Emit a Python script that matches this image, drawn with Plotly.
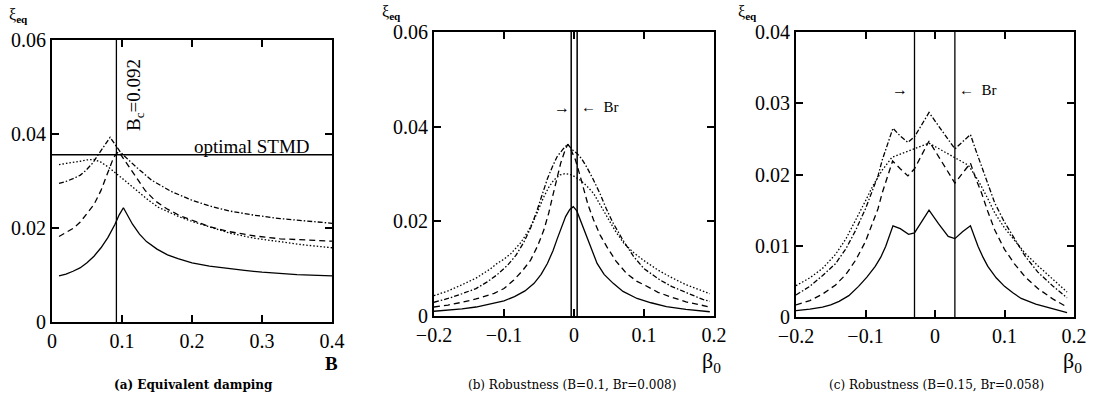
import plotly.graph_objects as go

W, H = 1095, 404

# ---------------- Panel (a): equivalent damping vs B ----------------
a_solid_B = [0.01, 0.02, 0.03, 0.04, 0.05, 0.06, 0.07, 0.08, 0.09, 0.096, 0.102, 0.108, 0.115, 0.125, 0.135, 0.15, 0.165, 0.18, 0.2, 0.225, 0.25, 0.275, 0.3, 0.35, 0.4]
a_solid_y = [0.0098, 0.0102, 0.0108, 0.0115, 0.0126, 0.0140, 0.0158, 0.0180, 0.0208, 0.0228, 0.0243, 0.0228, 0.0208, 0.0187, 0.0171, 0.0155, 0.0143, 0.0135, 0.0126, 0.0119, 0.0114, 0.0110, 0.0106, 0.0101, 0.0098]
a_dash_B = [0.01, 0.02, 0.03, 0.04, 0.05, 0.06, 0.07, 0.08, 0.088, 0.095, 0.1, 0.106, 0.114, 0.124, 0.133, 0.148, 0.165, 0.183, 0.2, 0.225, 0.254, 0.29, 0.326, 0.36, 0.4]
a_dash_y = [0.0182, 0.0190, 0.0199, 0.0212, 0.0230, 0.0250, 0.0280, 0.0320, 0.0350, 0.0363, 0.0352, 0.0338, 0.0320, 0.0298, 0.0280, 0.0257, 0.0240, 0.0226, 0.0216, 0.0203, 0.0192, 0.0183, 0.0177, 0.0174, 0.0172]
a_dot_B = [0.01, 0.025, 0.04, 0.05, 0.06, 0.07, 0.081, 0.095, 0.11, 0.124, 0.138, 0.152, 0.167, 0.183, 0.2, 0.225, 0.254, 0.29, 0.326, 0.36, 0.4]
a_dot_y = [0.0335, 0.0338, 0.0342, 0.0345, 0.0346, 0.0340, 0.0329, 0.0312, 0.0293, 0.0276, 0.0259, 0.0244, 0.0233, 0.0223, 0.0214, 0.0202, 0.0189, 0.0178, 0.0170, 0.0164, 0.0158]
a_dd_B = [0.01, 0.02, 0.03, 0.04, 0.048, 0.058, 0.067, 0.075, 0.083, 0.09, 0.098, 0.11, 0.12, 0.143, 0.17, 0.2, 0.225, 0.254, 0.29, 0.326, 0.36, 0.4]
a_dd_y = [0.0295, 0.0299, 0.0305, 0.0312, 0.0322, 0.0338, 0.0358, 0.0376, 0.0393, 0.0378, 0.0361, 0.0344, 0.0330, 0.0301, 0.0278, 0.0259, 0.0247, 0.0236, 0.0227, 0.0220, 0.0215, 0.0210]
a_Bc = 0.092
a_opt_stmd = 0.0356

# ---------------- Panel (b): robustness B=0.1, Br=0.008 ----------------
b_solid_x = [-0.2, -0.18, -0.16, -0.14, -0.12, -0.1, -0.085, -0.07, -0.057, -0.047, -0.038, -0.03, -0.024, -0.018, -0.012, -0.006, -0.001, 0.004, 0.009, 0.014, 0.018, 0.025, 0.033, 0.043, 0.056, 0.07, 0.09, 0.11, 0.132, 0.16, 0.194]
b_solid_y = [0.0010, 0.0012, 0.0015, 0.0019, 0.0025, 0.0032, 0.0041, 0.0053, 0.0069, 0.0088, 0.0111, 0.0138, 0.0163, 0.0188, 0.0210, 0.0225, 0.0231, 0.0222, 0.0203, 0.0183, 0.0168, 0.0140, 0.0111, 0.0088, 0.0069, 0.0052, 0.0037, 0.0028, 0.0020, 0.0014, 0.0009]
b_dash_x = [-0.2, -0.18, -0.16, -0.14, -0.114, -0.1, -0.086, -0.074, -0.062, -0.052, -0.043, -0.036, -0.031, -0.025, -0.019, -0.014, -0.009, -0.004, 0.002, 0.008, 0.014, 0.02, 0.028, 0.037, 0.047, 0.06, 0.075, 0.09, 0.1, 0.12, 0.137, 0.16, 0.194]
b_dash_y = [0.0019, 0.0023, 0.0029, 0.0036, 0.0048, 0.0058, 0.0076, 0.0095, 0.0118, 0.0148, 0.0182, 0.0218, 0.0250, 0.0290, 0.0323, 0.0345, 0.0363, 0.0350, 0.0330, 0.0300, 0.0266, 0.0235, 0.0203, 0.0172, 0.0146, 0.0116, 0.0090, 0.0073, 0.0066, 0.0050, 0.0041, 0.0030, 0.0019]
b_dd_x = [-0.2, -0.18, -0.16, -0.14, -0.124, -0.11, -0.095, -0.083, -0.072, -0.062, -0.053, -0.045, -0.038, -0.031, -0.024, -0.016, -0.009, -0.003, 0.004, 0.011, 0.018, 0.027, 0.037, 0.046, 0.056, 0.07, 0.085, 0.1, 0.123, 0.14, 0.16, 0.184, 0.194]
b_dd_y = [0.0029, 0.0037, 0.0047, 0.0058, 0.0072, 0.0087, 0.0107, 0.0128, 0.0155, 0.0186, 0.0222, 0.0258, 0.0290, 0.0315, 0.0337, 0.0352, 0.0363, 0.0352, 0.0344, 0.0332, 0.0315, 0.0290, 0.0259, 0.0227, 0.0196, 0.0160, 0.0126, 0.0100, 0.0076, 0.0062, 0.0050, 0.0035, 0.0031]
b_dot_x = [-0.2, -0.18, -0.16, -0.14, -0.12, -0.11, -0.1, -0.09, -0.076, -0.066, -0.057, -0.05, -0.043, -0.036, -0.029, -0.02, -0.012, -0.003, 0.009, 0.018, 0.028, 0.037, 0.047, 0.058, 0.071, 0.085, 0.099, 0.12, 0.137, 0.16, 0.18, 0.194]
b_dot_y = [0.0043, 0.0053, 0.0066, 0.0080, 0.0099, 0.0111, 0.0120, 0.0132, 0.0155, 0.0178, 0.0203, 0.0228, 0.0252, 0.0272, 0.0287, 0.0298, 0.0301, 0.0298, 0.0287, 0.0275, 0.0259, 0.0236, 0.0210, 0.0182, 0.0154, 0.0134, 0.0118, 0.0097, 0.0083, 0.0066, 0.0055, 0.0047]
b_br_lines = [-0.004, 0.0045]

# ---------------- Panel (c): robustness B=0.15, Br=0.058 ----------------
c_solid_x = [-0.2, -0.18, -0.162, -0.15, -0.138, -0.124, -0.11, -0.098, -0.086, -0.078, -0.071, -0.066, -0.0605, -0.05, -0.038, -0.0295, -0.02, -0.0086, 0.005, 0.019, 0.0286, 0.04, 0.051, 0.056, 0.062, 0.069, 0.076, 0.088, 0.1, 0.112, 0.124, 0.145, 0.167, 0.19]
c_solid_y = [0.0009, 0.0011, 0.0014, 0.0017, 0.0022, 0.0030, 0.0043, 0.0056, 0.0071, 0.0084, 0.0099, 0.0112, 0.0128, 0.0124, 0.0116, 0.0118, 0.0132, 0.0150, 0.0131, 0.0113, 0.0110, 0.0120, 0.0128, 0.0115, 0.0099, 0.0084, 0.0071, 0.0055, 0.0043, 0.0034, 0.0026, 0.0018, 0.0012, 0.0006]
c_dash_x = [-0.2, -0.18, -0.162, -0.143, -0.128, -0.114, -0.1, -0.09, -0.082, -0.076, -0.068, -0.061, -0.05, -0.039, -0.0295, -0.0086, 0.0286, 0.04, 0.051, 0.058, 0.067, 0.076, 0.086, 0.1, 0.114, 0.13, 0.148, 0.17, 0.19]
c_dash_y = [0.0017, 0.0023, 0.0032, 0.0045, 0.0060, 0.0080, 0.0106, 0.0131, 0.0152, 0.0174, 0.0198, 0.0219, 0.0208, 0.0198, 0.0208, 0.0247, 0.0188, 0.0203, 0.0216, 0.0196, 0.0174, 0.0148, 0.0122, 0.0095, 0.0075, 0.0056, 0.0040, 0.0025, 0.0014]
c_dd_x = [-0.2, -0.18, -0.162, -0.143, -0.128, -0.114, -0.1, -0.09, -0.082, -0.076, -0.068, -0.0605, -0.05, -0.039, -0.0295, -0.0086, 0.0286, 0.04, 0.051, 0.058, 0.067, 0.076, 0.086, 0.1, 0.114, 0.13, 0.148, 0.17, 0.19]
c_dd_y = [0.0031, 0.0043, 0.0058, 0.0075, 0.0096, 0.0122, 0.0152, 0.0176, 0.0198, 0.0220, 0.0243, 0.0265, 0.0254, 0.0245, 0.0253, 0.0287, 0.0236, 0.0246, 0.0256, 0.0236, 0.0211, 0.0186, 0.0160, 0.0133, 0.0110, 0.0085, 0.0063, 0.0043, 0.0027]
c_dot_x = [-0.2, -0.18, -0.162, -0.143, -0.128, -0.114, -0.1, -0.09, -0.076, -0.062, -0.0086, 0.048, 0.062, 0.075, 0.086, 0.1, 0.114, 0.13, 0.148, 0.17, 0.19]
c_dot_y = [0.0044, 0.0055, 0.0068, 0.0088, 0.0110, 0.0136, 0.0163, 0.0183, 0.0206, 0.0224, 0.0244, 0.0213, 0.0192, 0.0168, 0.0146, 0.0125, 0.0108, 0.0089, 0.0072, 0.0052, 0.0035]
c_br_lines = [-0.0295, 0.0286]

a_xticks = [0, 0.1, 0.2, 0.3, 0.4]
a_xtext = ["0", "0.1", "0.2", "0.3", "0.4"]
bc_xticks = [-0.2, -0.1, 0, 0.1, 0.2]
bc_xtext = ["\u22120.2", "\u22120.1", "0", "0.1", "0.2"]
ab_yticks = [0, 0.02, 0.04, 0.06]
ab_ytext = ["0", "0.02", "0.04", "0.06"]
c_yticks = [0, 0.01, 0.02, 0.03, 0.04]
c_ytext = ["0", "0.01", "0.02", "0.03", "0.04"]

SERIF = "Liberation Serif, Times New Roman, serif"
CAPF = "DejaVu Serif, serif"
DASH = "6px,4px"
DOT = "1.5px,2px"
DASHDOT = "5px,2px,1.5px,2px"
LW = 1.3


def px(x, y):
    return x / W, 1 - y / H


fig = go.Figure()


def add_curve(x, y, dash, xa, ya, width=LW):
    fig.add_trace(go.Scatter(x=x, y=y, mode="lines", xaxis=xa, yaxis=ya,
                             line=dict(color="black", width=width, dash=dash),
                             showlegend=False, hoverinfo="skip"))


# panel a
add_curve(a_solid_B, a_solid_y, "solid", "x", "y")
add_curve(a_dash_B, a_dash_y, DASH, "x", "y")
add_curve(a_dot_B, a_dot_y, DOT, "x", "y")
add_curve(a_dd_B, a_dd_y, DASHDOT, "x", "y")
add_curve([a_Bc, a_Bc], [0, 0.06], "solid", "x", "y", 1.3)
add_curve([0, 0.4], [a_opt_stmd, a_opt_stmd], "solid", "x", "y", 1.5)

# panel b
add_curve(b_solid_x, b_solid_y, "solid", "x2", "y2")
add_curve(b_dash_x, b_dash_y, DASH, "x2", "y2")
add_curve(b_dot_x, b_dot_y, DOT, "x2", "y2")
add_curve(b_dd_x, b_dd_y, DASHDOT, "x2", "y2")
for v in b_br_lines:
    add_curve([v, v], [0, 0.06], "solid", "x2", "y2", 1.5)

# panel c
add_curve(c_solid_x, c_solid_y, "solid", "x3", "y3")
add_curve(c_dash_x, c_dash_y, DASH, "x3", "y3")
add_curve(c_dot_x, c_dot_y, DOT, "x3", "y3")
add_curve(c_dd_x, c_dd_y, DASHDOT, "x3", "y3")
for v in c_br_lines:
    add_curve([v, v], [0, 0.04], "solid", "x3", "y3", 1.3)

axis_common = dict(showline=True, linecolor="black", linewidth=2, mirror="ticks",
                   ticks="inside", ticklen=7, tickwidth=1.5, tickcolor="black",
                   showgrid=False, zeroline=False, automargin=False,
                   tickfont=dict(family=SERIF, size=20, color="black"))

xa_dom = [52 / W, 332 / W]
xb_dom = [434 / W, 714 / W]
xc_dom = [796 / W, 1074 / W]
ya_dom = [1 - 322 / H, 1 - 40 / H]
yb_dom = [1 - 316 / H, 1 - 32 / H]
yc_dom = [1 - 317 / H, 1 - 32 / H]

fig.update_layout(
    template="none",
    width=W, height=H, margin=dict(l=0, r=0, t=0, b=0, pad=0, autoexpand=False),
    paper_bgcolor="white", plot_bgcolor="white", showlegend=False,
    font=dict(family=SERIF, color="black"),
    xaxis=dict(domain=xa_dom, range=[0, 0.4], tickvals=a_xticks, ticktext=a_xtext, anchor="y", **axis_common),
    yaxis=dict(domain=ya_dom, range=[0, 0.06], tickvals=ab_yticks, ticktext=ab_ytext, anchor="x", **axis_common),
    xaxis2=dict(domain=xb_dom, range=[-0.2, 0.2], tickvals=bc_xticks, ticktext=bc_xtext, anchor="y2", **axis_common),
    yaxis2=dict(domain=yb_dom, range=[0, 0.06], tickvals=ab_yticks, ticktext=ab_ytext, anchor="x2", **axis_common),
    xaxis3=dict(domain=xc_dom, range=[-0.2, 0.2], tickvals=bc_xticks, ticktext=bc_xtext, anchor="y3", **axis_common),
    yaxis3=dict(domain=yc_dom, range=[0, 0.04], tickvals=c_yticks, ticktext=c_ytext, anchor="x3", **axis_common),
)

ann = []


def text(x, y, s, size=18, angle=0, xanchor="center", yanchor="middle", family=SERIF):
    xp, yp = px(x, y)
    ann.append(dict(x=xp, y=yp, xref="paper", yref="paper", text=s, showarrow=False,
                    textangle=angle, xanchor=xanchor, yanchor=yanchor,
                    font=dict(family=family, size=size, color="black")))


# y-axis labels
text(7, 15, "\u03be<sub><b>eq</b></sub>", size=16, xanchor="left")
text(380, 12, "\u03be<sub><b>eq</b></sub>", size=16, xanchor="left")
text(736, 12, "\u03be<sub><b>eq</b></sub>", size=16, xanchor="left")
# x-axis labels
text(331, 363, "<b>B</b>", size=19)
text(711, 362, "\u03b2<sub>0</sub>", size=22)
text(1072, 362, "\u03b2<sub>0</sub>", size=22)
# panel (a) annotations
text(135, 95, "B<sub>c</sub>=0.092", size=19, angle=-90)
text(252, 146, "optimal STMD", size=19)
# Br arrows
text(562, 107, "\u2192", size=16)
text(600, 107, "\u2190  Br", size=15)
text(900, 90, "\u2192", size=16)
text(978, 90, "\u2190  Br", size=15)
# captions
text(193, 385, "<b>(a) Equivalent damping</b>", size=12, family=CAPF)
text(572, 385, "(b) Robustness (B=0.1, Br=0.008)", size=12, family=CAPF)
text(936, 385, "(c) Robustness (B=0.15, Br=0.058)", size=12, family=CAPF)

fig.update_layout(annotations=ann)
fig.write_html("out.html", config={"displayModeBar": False},
               post_script="document.body.style.margin='0';document.body.style.overflow='hidden';")
